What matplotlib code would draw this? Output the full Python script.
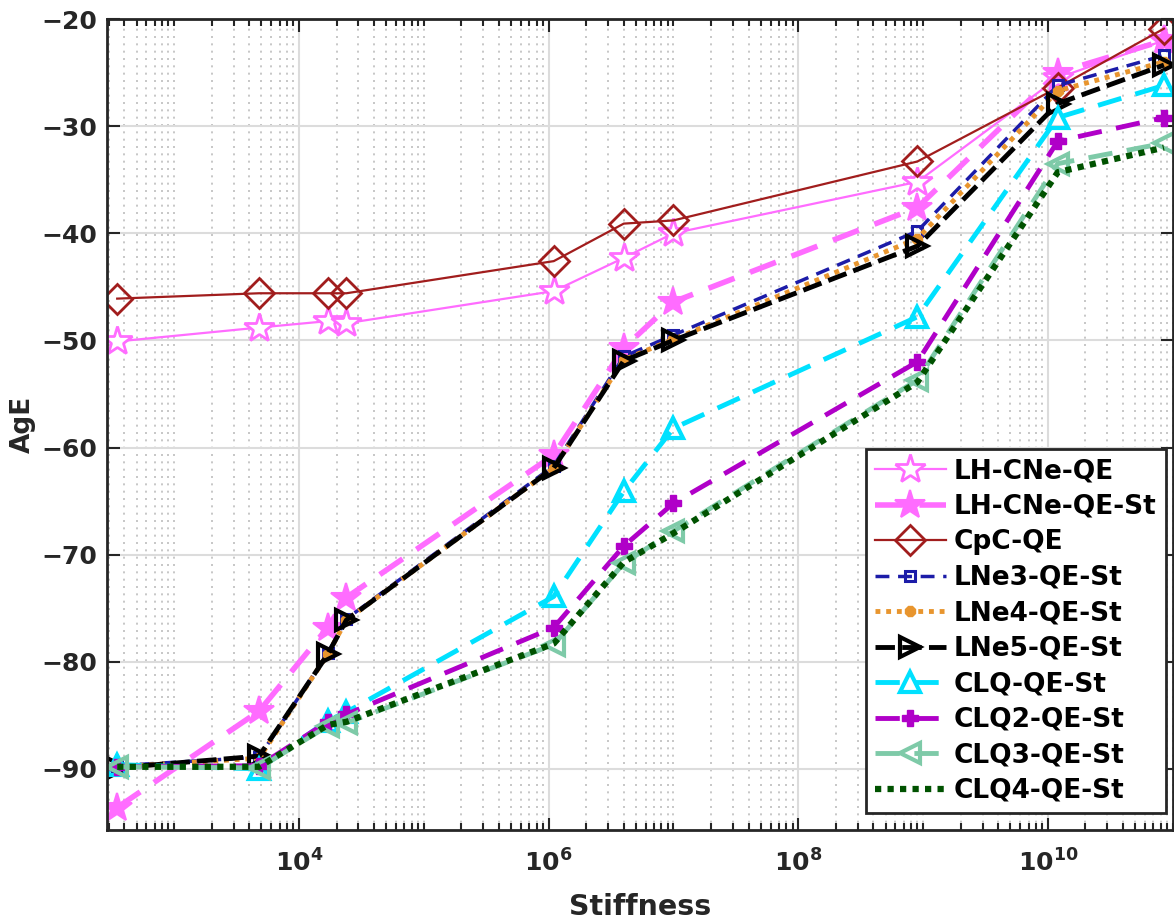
import numpy as np
import matplotlib
matplotlib.use("Agg")
import matplotlib.pyplot as plt
from matplotlib.ticker import FixedLocator, LogLocator, NullFormatter

plt.rcParams['font.family'] = ['DejaVu Sans']
plt.rcParams['font.weight'] = 'bold'
plt.rcParams['mathtext.default'] = 'bf'

# stiffness sweep (log axis) and AgE of each model
stiffness = [350, 4800, 17000, 24000, 1.1e6, 4e6, 1e7, 9e8, 1.2e10, 8.5e10]

lh_cne_qe = [-50.1, -48.8, -48.2, -48.4, -45.4, -42.3, -40.0, -35.2, -25.5, -22.0]
lh_cne_qe_st = [-93.6, -84.6, -76.8, -74.0, -60.7, -50.7, -46.4, -37.6, -25.0, -22.0]
cpc_qe = [-46.1, -45.6, -45.6, -45.6, -42.6, -39.1, -38.8, -33.3, -26.4, -20.9]
lne3_qe_st = [-89.7, -88.9, -79.2, -76.0, -61.7, -51.5, -49.5, -39.8, -26.2, -23.4]
lne4_qe_st = [-89.8, -89.0, -79.3, -76.1, -61.9, -51.8, -49.9, -40.5, -26.7, -24.0]
lne5_qe_st = [-89.9, -88.8, -79.3, -76.1, -61.9, -51.9, -50.0, -41.2, -27.9, -24.3]
clq_qe_st = [-89.6, -90.0, -85.5, -84.7, -73.9, -64.1, -58.2, -47.8, -29.2, -26.2]
clq2_qe_st = [-89.8, -89.7, -85.6, -84.9, -76.8, -69.2, -65.2, -52.0, -31.4, -29.2]
clq3_qe_st = [-89.8, -89.9, -86.0, -85.7, -78.4, -70.8, -67.8, -53.7, -33.5, -31.6]
clq4_qe_st = [-89.8, -89.8, -85.9, -85.6, -78.3, -70.7, -68.0, -53.9, -34.3, -32.0]

fig = plt.figure(figsize=(11.74, 9.21), dpi=100)
ax = fig.add_axes([107/1174, 1-830/921, (1172.75-107)/1174, (830-19)/921])

pink = '#ff6cff'
ax.plot(stiffness, lh_cne_qe, color=pink, lw=1.6, marker='*', ms=22,
        mfc='white', mec=pink, mew=2, label='LH-CNe-QE')
ax.plot(stiffness, lh_cne_qe_st, color=pink, lw=4, dashes=(5, 3), marker='*', ms=22,
        mfc=pink, mec=pink, mew=1.5, label='LH-CNe-QE-St')
ax.plot(stiffness, cpc_qe, color='#a11d1d', lw=1.6, marker='D', ms=15,
        mfc='none', mec='#a11d1d', mew=2, label='CpC-QE')
ax.plot(stiffness, lne3_qe_st, color='#1c1ca8', lw=2.5, dashes=(4, 2.5), marker='s', ms=7,
        mfc='none', mec='#1c1ca8', mew=2.2, label='LNe3-QE-St')
ax.plot(stiffness, lne4_qe_st, color='#e8952e', lw=3.5, dashes=(1, 1.2), marker='8', ms=8,
        mfc='#e8952e', mec='#e8952e', label='LNe4-QE-St')
ax.plot(stiffness, lne5_qe_st, color='black', lw=3.5, dashes=(4, 1.5), marker='>', ms=15,
        mfc='none', mec='black', mew=3, label='LNe5-QE-St')
ax.plot(stiffness, clq_qe_st, color='#00e1ff', lw=3.5, dashes=(5, 3), marker='^', ms=15,
        mfc='none', mec='#00e1ff', mew=3, label='CLQ-QE-St')
ax.plot(stiffness, clq2_qe_st, color='#b000c8', lw=3.5, dashes=(5, 3), marker='P', ms=12,
        mfc='#b000c8', mec='#b000c8', label='CLQ2-QE-St')
ax.plot(stiffness, clq3_qe_st, color='#7ecaa8', lw=3.5, dashes=(5, 3), marker='<', ms=15,
        mfc='none', mec='#7ecaa8', mew=3, label='CLQ3-QE-St')
ax.plot(stiffness, clq4_qe_st, color='#005200', lw=4.5, dashes=(1, 1), label='CLQ4-QE-St')

ax.set_xscale('log')
ax.set_xlim(290, 1e11)
ax.set_ylim(-95.7, -20)
ax.set_yticks(np.arange(-90, -19, 10))

ax.xaxis.set_major_locator(FixedLocator([1e4, 1e6, 1e8, 1e10]))
ax.xaxis.set_minor_locator(LogLocator(base=10, subs=np.arange(1, 10), numticks=50))
ax.xaxis.set_minor_formatter(NullFormatter())
ax.set_xticklabels([r'$10^{4}$', r'$10^{6}$', r'$10^{8}$', r'$10^{10}$'])

ax.grid(which='major', color='#dcdcdc', lw=1.5, ls='-')
ax.grid(which='minor', axis='x', color='#bdbdbd', lw=1.2, ls=(0, (1.2, 3.2)))
ax.set_axisbelow(True)

ax.tick_params(which='both', direction='in', top=True, right=True, colors='#262626',
               width=1.5, labelsize=18)
ax.tick_params(which='major', length=9)
ax.tick_params(which='minor', length=5)
ax.tick_params(axis='x', pad=14)
ax.tick_params(axis='y', pad=7)
for s in ax.spines.values():
    s.set_linewidth(2)
    s.set_color('#262626')

ax.set_xlabel('Stiffness', fontsize=20.5, fontweight='bold', color='#262626', labelpad=12)
ax.set_ylabel('AgE', fontsize=19, fontweight='bold', color='#262626', labelpad=4)

leg = ax.legend(loc='lower right', bbox_to_anchor=(1166/1174, 1-813/921),
                bbox_transform=fig.transFigure, borderaxespad=0, fancybox=False,
                framealpha=1, edgecolor='#262626', fontsize=19, handlelength=2.7,
                handletextpad=0.3, labelspacing=0.36, borderpad=0.35)
leg.get_frame().set_linewidth(2)
for t in leg.get_texts():
    t.set_fontweight('bold')

fig.savefig('out.png', dpi=100)
